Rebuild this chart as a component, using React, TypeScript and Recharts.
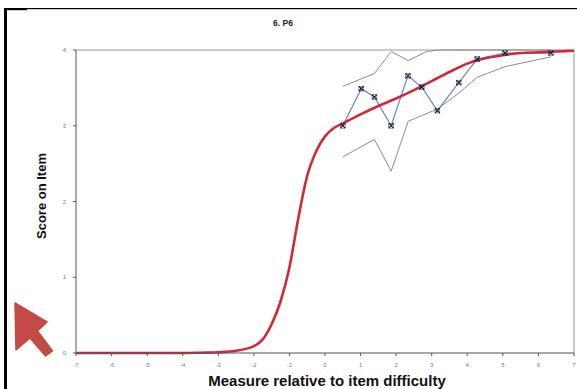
import React from "react";
import { LineChart, Line, XAxis, YAxis, ReferenceLine } from "recharts";

const xTicks = [-7, -6, -5, -4, -3, -2, -1, 0, 1, 2, 3, 4, 5, 6, 7];
const yTicks = [0, 1, 2, 3, 4];

const modelX = [-7, -6, -5, -4, -3.5, -3, -2.5, -2, -1.75, -1.5, -1.25, -1, -0.75, -0.5, -0.25, 0, 0.25, 0.5, 1, 1.5, 2, 2.5, 3, 3.5, 4, 4.5, 5, 5.5, 6, 6.5, 7];
const modelY = [0, 0, 0, 0, 0.004, 0.01, 0.03, 0.09, 0.18, 0.38, 0.68, 1.13, 1.78, 2.34, 2.66, 2.86, 2.97, 3.03, 3.15, 3.26, 3.36, 3.47, 3.59, 3.71, 3.82, 3.89, 3.93, 3.96, 3.97, 3.98, 3.99];

const empX = [0.5, 1.02, 1.39, 1.86, 2.33, 2.72, 3.16, 3.76, 4.28, 5.06, 6.35];
const empY = [3.0, 3.49, 3.38, 3.0, 3.66, 3.51, 3.2, 3.57, 3.88, 3.96, 3.96];

const upperX = [0.5, 1.39, 1.86, 2.34, 2.86, 3.2, 6.35];
const upperY = [3.52, 3.69, 3.98, 3.86, 3.98, 4.0, 4.0];

const lowerX = [0.5, 1.39, 1.86, 2.34, 3.16, 3.76, 4.28, 5.06, 6.35];
const lowerY = [2.59, 2.82, 2.4, 3.06, 3.22, 3.43, 3.64, 3.78, 3.91];

const zip = (xs: number[], ys: number[]) => xs.map((x, i) => ({ x, y: ys[i] }));

const modelData = zip(modelX, modelY);
const empData = zip(empX, empY);
const upperData = zip(upperX, upperY);
const lowerData = zip(lowerX, lowerY);

const CrossDot = (props: any) => {
  const { cx, cy } = props;
  if (cx == null || cy == null) return null;
  const s = 2.4;
  return (
    <g>
      <rect x={cx - s} y={cy - s} width={2 * s} height={2 * s} fill="none" stroke="#3a4060" strokeWidth={0.5} />
      <line x1={cx - s} y1={cy - s} x2={cx + s} y2={cy + s} stroke="#1a2040" strokeWidth={1.2} />
      <line x1={cx - s} y1={cy + s} x2={cx + s} y2={cy - s} stroke="#1a2040" strokeWidth={1.2} />
    </g>
  );
};

const tickStyle = { fontSize: 6, fill: "#777", fontFamily: "Liberation Sans, Arial, sans-serif" };

export default function App() {
  return (
    <div style={{ position: "absolute", left: 0, top: 0, width: 577, height: 389, background: "#fff" }}>
      <LineChart
        width={577}
        height={389}
        margin={{ top: 50, right: 3, bottom: 16, left: 16 }}
      >
        <XAxis
          type="number"
          dataKey="x"
          domain={[-7, 7]}
          ticks={xTicks}
          interval={0}
          allowDuplicatedCategory={false}
          tick={tickStyle}
          tickSize={3}
          tickMargin={7}
          height={20}
          stroke="#555"
        />
        <YAxis
          type="number"
          dataKey="y"
          domain={[0, 4]}
          ticks={yTicks}
          interval={0}
          tick={tickStyle}
          tickSize={3}
          tickMargin={7}
          width={60}
          stroke="#555"
        />
        <ReferenceLine y={4} stroke="#999" strokeWidth={1} />
        <ReferenceLine x={7} stroke="#999" strokeWidth={1} />
        <Line data={upperData} dataKey="y" stroke="#8c8c8c" strokeWidth={1} dot={false} isAnimationActive={false} />
        <Line data={lowerData} dataKey="y" stroke="#8c8c8c" strokeWidth={1} dot={false} isAnimationActive={false} />
        <Line data={empData} dataKey="y" stroke="#7282c4" strokeWidth={1.2} dot={<CrossDot />} isAnimationActive={false} />
        <Line data={modelData} dataKey="y" type="monotone" stroke="#d02a38" strokeWidth={2.6} dot={false} isAnimationActive={false} />
      </LineChart>
      <svg
        width={577}
        height={389}
        style={{ position: "absolute", left: 0, top: 0, pointerEvents: "none" }}
      >
        <rect x={4} y={8} width={573} height={1.2} fill="#000" />
        <rect x={4} y={8} width={23} height={2.2} fill="#000" />
        <rect x={4} y={8} width={3} height={381} fill="#000" />
        <polygon
          points="15,303 47,322 37.5,331 52.5,351 45.5,356 30,338 16,350"
          fill="#c44a46"
          stroke="#c44a46"
          strokeWidth={1.5}
          strokeLinejoin="round"
        />
        <text
          x={283}
          y={26}
          textAnchor="middle"
          fontFamily="Liberation Sans, Arial, sans-serif"
          fontWeight="bold"
          fontSize={8.5}
          fill="#222"
        >
          6. P6
        </text>
        <text
          x={0}
          y={0}
          transform="translate(46,196) rotate(-90)"
          textAnchor="middle"
          fontFamily="Liberation Sans, Arial, sans-serif"
          fontWeight="bold"
          fontSize={13}
          fill="#111"
        >
          Score on Item
        </text>
        <text
          x={327}
          y={386}
          textAnchor="middle"
          fontFamily="Liberation Sans, Arial, sans-serif"
          fontWeight="bold"
          fontSize={15}
          fill="#111"
        >
          Measure relative to item difficulty
        </text>
      </svg>
    </div>
  );
}
